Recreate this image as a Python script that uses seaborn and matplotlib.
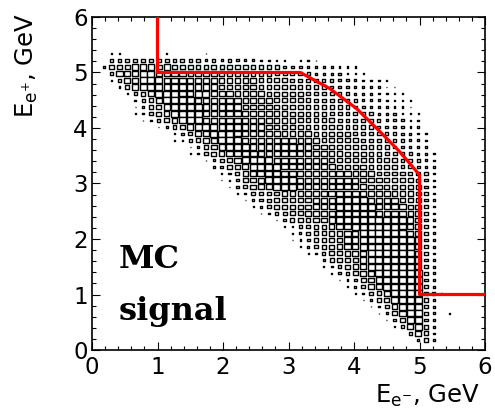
import numpy as np
import pandas as pd
import matplotlib
matplotlib.use("Agg")
import matplotlib.pyplot as plt
from matplotlib.path import Path
from matplotlib.ticker import MultipleLocator
import seaborn as sns

# ---------------- data ----------------
# 2D histogram: 50 x 50 bins of 0.12 GeV on [0, 6] x [0, 6]
bin_width = 0.12
n_bins = 50

# per filled row: y-bin index, first x-bin index, box size per bin (1-9, '.' empty)
row_index = [44, 43, 42, 41, 40, 39, 38, 37, 36, 35, 34, 33, 32, 31, 30, 29, 28,
             27, 26, 25, 24, 23, 22, 21, 20, 19, 18, 17, 16, 15, 14, 13, 12, 11,
             10, 9, 8, 7, 6, 5, 4, 3, 2, 1]
row_first_col = [2, 2, 1, 2, 2, 3, 4, 5, 5, 5, 6, 8, 10, 10, 12, 12, 14,
                 14, 16, 16, 17, 18, 19, 20, 21, 23, 24, 25, 25, 26, 27, 28, 29, 30,
                 31, 32, 33, 34, 35, 36, 37, 38, 40, 41]
row_counts = [
    "11.....1....1",
    "45555555554534343332222.221",
    "267788878766666566655554443323222",
    "488899888877777766666555543333221",
    "258899988888877777766665554443332221",
    "258999898888877777666665555443332211",
    "146899988998887777666665555443332211",
    "246899998888887777666665555443332211",
    "135689999888887777666666555544333221",
    "1246799998888887777766666555544333221",
    "124679998888888777776666655554433322",
    "1357899988888877777666665555443322",
    "135789998888887777666665555443322",
    "124678999888888877766666555544332",
    "1357899988888888777666665544332",
    "12467899988888887777666665544332",
    "135789999888888877776666655432",
    "124678999988888887777666655432",
    "1357899998888888877766665542",
    "1246789999888888887776666542",
    "135788999888888888777766642",
    "13566677788899998888777642",
    "1245666778889999888877643",
    "135666778889999988887742",
    "12456677889999988887742",
    "135667788999999888743",
    "12456678899999988842",
    "1356677889999998843",
    "1245667889999999842",
    "135667889999999843",
    "12466788999999842",
    "1356778999999843",
    "124678999999843",
    "13567899999943",
    "1246789999943",
    "135789999943",
    "124689999541",
    "1357899953",
    "125799953",
    "13689953.1",
    "1379942",
    "258963",
    "4762",
    "252",
]

# red selection contour (E_e-, E_e+ in GeV)
cut_x = [1.0, 1.0, 3.18, 3.63, 4.04, 4.40, 4.70, 4.96, 5.0, 5.0, 6.0]
cut_y = [6.0, 5.0, 5.0, 4.71, 4.35, 3.93, 3.57, 3.21, 3.15, 1.0, 1.0]

# ---------------- build table ----------------
recs = []
for j, c0, s in zip(row_index, row_first_col, row_counts):
    for k, ch in enumerate(s):
        if ch != ".":
            recs.append({"x": (c0 + k + 0.5) * bin_width,
                         "y": (j + 0.5) * bin_width,
                         "v": int(ch)})
df = pd.DataFrame(recs)

# ---------------- figure ----------------
sns.set_style("ticks")
plt.rcParams["font.family"] = ["DejaVu Sans"]
plt.rcParams["mathtext.fontset"] = "dejavusans"
plt.rcParams["text.color"] = "black"
plt.rcParams["xtick.color"] = "black"
plt.rcParams["ytick.color"] = "black"
plt.rcParams["xtick.labelcolor"] = "black"
plt.rcParams["ytick.labelcolor"] = "black"

W, H, DPI = 495, 409, 100
fig = plt.figure(figsize=(W / DPI, H / DPI), dpi=DPI)
ax_l, ax_r, ax_t, ax_b = 92, 485, 17, 350
ax = fig.add_axes([ax_l / W, 1 - ax_b / H, (ax_r - ax_l) / W, (ax_b - ax_t) / H])

cell_w_px = (ax_r - ax_l) / n_bins
cell_h_px = (ax_b - ax_t) / n_bins
a = cell_h_px / cell_w_px
rect = Path([(-1, -a), (1, -a), (1, a), (-1, a), (-1, -a)],
            [Path.MOVETO, Path.LINETO, Path.LINETO, Path.LINETO, Path.CLOSEPOLY])

size_map = {v: (7.0 * v / 9 * 72 / DPI) ** 2 for v in range(1, 10)}
sns.scatterplot(data=df, x="x", y="y", size="v", sizes=size_map, marker=rect,
                facecolor="white", edgecolor="black", linewidth=1.0,
                legend=False, ax=ax, zorder=2)

sns.lineplot(x=cut_x, y=cut_y, sort=False, estimator=None, color="#ff0000",
             linewidth=2.3, ax=ax, zorder=3)

ax.set_xlim(0, 6)
ax.set_ylim(0, 6)
ax.set_xlabel("")
ax.set_ylabel("")
ax.xaxis.set_major_locator(MultipleLocator(1))
ax.yaxis.set_major_locator(MultipleLocator(1))
ax.xaxis.set_minor_locator(MultipleLocator(0.2))
ax.yaxis.set_minor_locator(MultipleLocator(0.2))
ax.tick_params(which="both", direction="in", top=True, right=True,
               width=0.8, color="black", labelcolor="black")
ax.tick_params(which="major", length=5.8)
ax.tick_params(which="minor", length=3.2)
ax.tick_params(axis="x", labelsize=16.5, pad=4)
ax.tick_params(axis="y", labelsize=16.5, pad=3)
for sp in ax.spines.values():
    sp.set_linewidth(1.2)
    sp.set_color("black")
    sp.set_visible(True)

fig.text(480 / W, 1 - 403 / H, r"$\mathregular{E_{e^{-}}}$, GeV", ha="right",
         va="baseline", fontsize=17.5, color="black")
fig.text(27 / W, 1 - 13 / H, r"$\mathregular{E_{e^{+}}}$, GeV", ha="center",
         va="top", rotation=90, fontsize=17.5, color="black")

ax.text(0.40, 1.48, "MC", fontsize=23, fontweight="bold", family="DejaVu Serif",
        ha="left", va="baseline", color="black")
ax.text(0.40, 0.54, "signal", fontsize=23, fontweight="bold", family="DejaVu Serif",
        ha="left", va="baseline", color="black")

fig.savefig("out.png", dpi=DPI)
